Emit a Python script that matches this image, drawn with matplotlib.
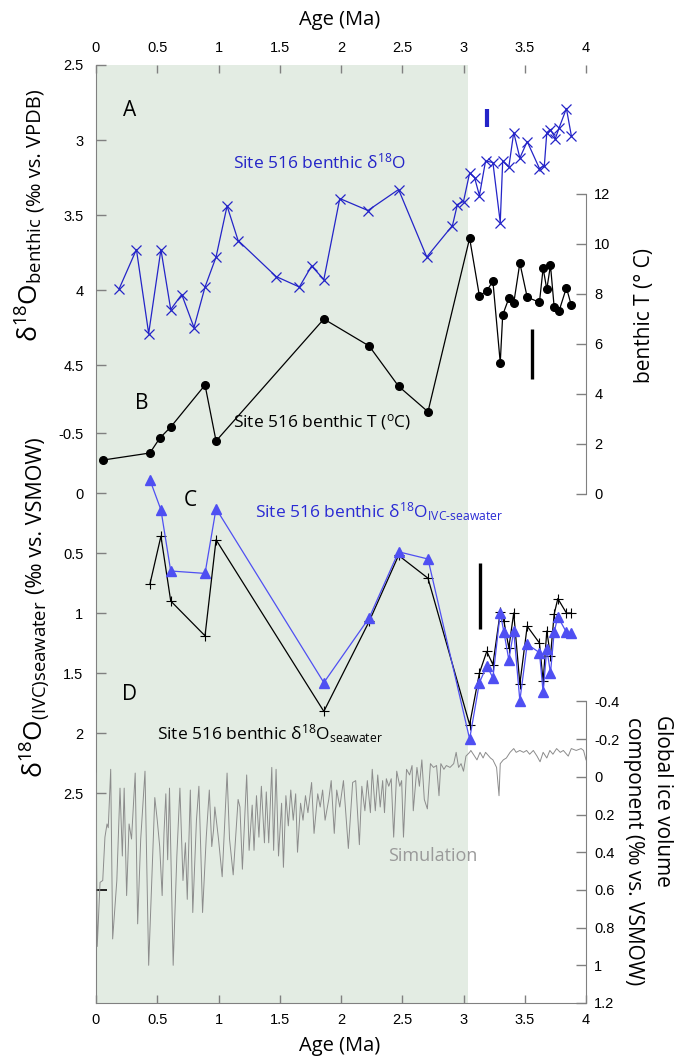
import matplotlib
matplotlib.use('Agg')
import matplotlib.pyplot as plt

plt.rcParams['font.family'] = ['Open Sans', 'DejaVu Sans']
plt.rcParams['mathtext.fontset'] = 'custom'
plt.rcParams['mathtext.rm'] = 'Open Sans'
plt.rcParams['mathtext.it'] = 'Open Sans:italic'
plt.rcParams['mathtext.bf'] = 'Open Sans:bold'

# --- data ---
# A: Site 516 benthic d18O (permil vs VPDB)
age_d18o = [0.19, 0.33, 0.43, 0.53, 0.61, 0.70, 0.80, 0.89, 0.98, 1.07, 1.16, 1.47, 1.66, 1.76,
            1.86, 1.99, 2.22, 2.47, 2.70, 2.91, 2.95, 3.00, 3.05, 3.09, 3.13, 3.18, 3.24, 3.30,
            3.32, 3.37, 3.41, 3.46, 3.52, 3.62, 3.66, 3.68, 3.71, 3.75, 3.78, 3.84, 3.88]
d18o = [3.99, 3.73, 4.29, 3.73, 4.13, 4.03, 4.25, 3.98, 3.78, 3.44, 3.67, 3.91, 3.98, 3.84,
        3.93, 3.39, 3.47, 3.33, 3.78, 3.57, 3.43, 3.41, 3.22, 3.25, 3.37, 3.14, 3.15, 3.55,
        3.14, 3.18, 2.95, 3.12, 3.01, 3.19, 3.17, 2.95, 2.93, 2.99, 2.92, 2.79, 2.97]

# B: Site 516 benthic T (degC)
age_T = [0.06, 0.44, 0.52, 0.61, 0.89, 0.98, 1.86, 2.23, 2.47, 2.71, 3.05, 3.13, 3.19, 3.24,
         3.30, 3.32, 3.37, 3.41, 3.46, 3.52, 3.62, 3.65, 3.68, 3.71, 3.74, 3.78, 3.84, 3.88]
temp = [1.36, 1.64, 2.23, 2.68, 4.36, 2.12, 7.00, 5.92, 4.31, 3.29, 10.23, 7.92, 8.13, 8.51,
        5.25, 7.16, 7.83, 7.63, 9.24, 7.87, 7.67, 9.03, 8.19, 9.15, 7.48, 7.32, 8.25, 7.55]

# C / D: seawater d18O (permil vs VSMOW)
age_sw = [0.44, 0.53, 0.61, 0.89, 0.98, 1.86, 2.23, 2.47, 2.71, 3.05, 3.13, 3.19, 3.24, 3.30,
          3.33, 3.37, 3.41, 3.46, 3.52, 3.62, 3.65, 3.68, 3.71, 3.74, 3.77, 3.84, 3.88]
sw = [0.76, 0.36, 0.90, 1.19, 0.39, 1.82, 1.07, 0.52, 0.71, 1.93, 1.50, 1.32, 1.43, 0.99,
      1.07, 1.29, 1.00, 1.59, 1.11, 1.25, 1.57, 1.15, 1.36, 1.01, 0.88, 1.00, 1.00]
ivc = [-0.11, 0.14, 0.65, 0.67, 0.13, 1.58, 1.04, 0.49, 0.55, 2.05, 1.58, 1.44, 1.54, 1.00,
       1.16, 1.39, 1.15, 1.73, 1.26, 1.33, 1.66, 1.30, 1.50, 1.16, 1.03, 1.16, 1.17]

# simulated global ice volume component
age_sim = [0.00, 0.01, 0.033, 0.055, 0.073, 0.09, 0.10, 0.12, 0.136, 0.17, 0.196, 0.215, 0.23,
           0.25, 0.27, 0.29, 0.32, 0.34, 0.365, 0.40, 0.43, 0.455, 0.48, 0.50, 0.52, 0.54,
           0.555, 0.57, 0.585, 0.60, 0.63, 0.66, 0.685, 0.71, 0.73, 0.745, 0.77, 0.79, 0.82,
           0.84, 0.87, 0.90, 0.925, 0.945, 0.96, 0.97, 1.00, 1.03, 1.07, 1.09, 1.12, 1.16,
           1.175, 1.195, 1.23, 1.25, 1.275, 1.29, 1.31, 1.33, 1.35, 1.375, 1.39, 1.41, 1.435,
           1.45, 1.47, 1.49, 1.515, 1.53, 1.55, 1.57, 1.59, 1.61, 1.63, 1.645, 1.67, 1.69,
           1.71, 1.73, 1.76, 1.78, 1.81, 1.83, 1.85, 1.87, 1.90, 1.92, 1.945, 1.965, 1.99,
           2.02, 2.06, 2.095, 2.12, 2.15, 2.17, 2.195, 2.215, 2.24, 2.255, 2.28, 2.30, 2.32,
           2.34, 2.355, 2.37, 2.39, 2.41, 2.43, 2.455, 2.48, 2.495, 2.51, 2.535, 2.56, 2.58,
           2.59, 2.62, 2.64, 2.66, 2.68, 2.705, 2.73, 2.755, 2.78, 2.80, 2.815, 2.84, 2.86,
           2.89, 2.92, 2.94, 2.96, 2.98, 3.00, 3.02, 3.05, 3.06, 3.08, 3.11, 3.135, 3.16,
           3.18, 3.22, 3.24, 3.27, 3.29, 3.30, 3.325, 3.35, 3.38, 3.41, 3.43, 3.46, 3.49,
           3.515, 3.54, 3.57, 3.60, 3.625, 3.65, 3.68, 3.705, 3.73, 3.76, 3.79, 3.815, 3.855,
           3.88, 3.92, 3.96, 3.98, 4.00]
ice_sim = [-0.02, 0.90, 0.56, 0.55, 0.32, 0.25, 0.27, -0.04, 0.86, 0.55, 0.06, 0.42, 0.06,
           0.63, 0.25, 0.33, -0.02, 0.78, 0.33, -0.03, 1.00, 0.55, 0.11, 0.23, 0.37, 0.63,
           0.30, 0.09, 0.44, 0.06, 1.00, 0.42, 0.06, 0.55, 0.35, 0.65, 0.07, 0.72, 0.23,
           0.05, 0.72, 0.32, 0.07, 0.37, 0.28, 0.16, 0.33, 0.53, -0.02, 0.33, 0.52, 0.12,
           0.16, 0.49, -0.01, 0.39, 0.15, 0.39, 0.10, 0.32, 0.05, 0.35, 0.08, 0.35, -0.05,
           0.39, -0.04, 0.42, 0.14, 0.48, 0.10, 0.26, 0.07, 0.23, 0.09, 0.40, 0.14, 0.23,
           0.10, 0.19, 0.03, 0.30, 0.09, 0.16, 0.07, 0.23, 0.12, 0.02, 0.30, 0.07, 0.16,
           0.02, 0.38, 0.03, 0.02, 0.36, 0.05, 0.18, 0.02, 0.19, -0.04, 0.18, -0.01, 0.16,
           0.02, 0.19, 0.01, 0.05, 0.01, 0.32, -0.03, 0.05, 0.02, 0.32, -0.04, -0.01, -0.06,
           0.18, -0.05, 0.05, -0.09, 0.12, 0.17, -0.07, -0.05, -0.06, 0.10, -0.07, -0.04, -0.06,
           -0.05, -0.07, -0.13, -0.05, -0.07, -0.03, -0.11, -0.13, -0.14, -0.12, -0.09, -0.13, -0.10,
           -0.13, -0.10, -0.09, -0.05, 0.10, -0.07, -0.09, -0.10, -0.13, -0.15, -0.13, -0.14, -0.13,
           -0.14, -0.12, -0.14, -0.11, -0.08, -0.13, -0.10, -0.14, -0.12, -0.15, -0.13, -0.14, -0.11,
           -0.15, -0.14, -0.15, -0.14, -0.09]

# analytical uncertainty bars
bar_a_age, bar_a_lo, bar_a_hi = [3.19], [2.79], [2.91]
bar_T_age, bar_T_lo, bar_T_hi = [3.56], [4.6], [6.6]
bar_sw_age, bar_sw_lo, bar_sw_hi = [3.135], [0.58], [1.13]

shade_start, shade_end = 0.0, 3.04

age_ticks = [0, 0.5, 1, 1.5, 2, 2.5, 3, 3.5, 4]
age_labels = ['0', '0.5', '1', '1.5', '2', '2.5', '3', '3.5', '4']
d18o_ticks = [2.5, 3, 3.5, 4, 4.5]
d18o_labels = ['2.5', '3', '3.5', '4', '4.5']
sw_ticks = [-0.5, 0, 0.5, 1, 1.5, 2, 2.5]
sw_labels = ['-0.5', '0', '0.5', '1', '1.5', '2', '2.5']
T_ticks = [0, 2, 4, 6, 8, 10, 12]
T_labels = ['0', '2', '4', '6', '8', '10', '12']
ice_ticks = [-0.4, -0.2, 0, 0.2, 0.4, 0.6, 0.8, 1.0, 1.2]
ice_labels = ['-0.4', '-0.2', '0', '0.2', '0.4', '0.6', '0.8', '1', '1.2']

# --- figure ---
W, H = 686, 1062
fig = plt.figure(figsize=(W / 100, H / 100), dpi=100)


def fx(px):
    return px / W


def fy(py):
    return 1 - py / H


rect = [fx(96), fy(1003), fx(586) - fx(96), fy(65) - fy(1003)]
GREY = '#808080'
TICKFONT = 'Liberation Sans'
BLUE = '#2424c8'
LBLUE = '#4f4ff2'

ax = fig.add_axes(rect, label='base')
ax.set_xlim(0, 4)
ax.set_ylim(0, 1)
ax.axvspan(shade_start, shade_end, color='#e3ece3', lw=0)
ax.set_yticks([])
ax.set_xticks(age_ticks)
ax.set_xticklabels(age_labels)
ax.tick_params(axis='x', top=True, labeltop=True, direction='in', length=6, width=1,
               color=GREY, labelsize=10.5, pad=7, labelfontfamily=TICKFONT)
for s in ['top', 'right']:
    ax.spines[s].set_visible(False)
for s in ['left', 'bottom']:
    ax.spines[s].set_color(GREY)


def overlay(name, ylim):
    a = fig.add_axes(rect, label=name)
    a.set_xlim(0, 4)
    a.set_ylim(*ylim)
    a.patch.set_visible(False)
    for s in a.spines.values():
        s.set_visible(False)
    a.set_xticks([])
    return a


ax_ice = overlay('ice', (1.199, -3.777))
ax_sw = overlay('sw', (4.25, -3.5667))
ax_T = overlay('T', (-20.36, 17.16))
ax_a = overlay('a', (8.7533, 2.5))

# left axes
for a, tk, lb in [(ax_a, d18o_ticks, d18o_labels), (ax_sw, sw_ticks, sw_labels)]:
    a.set_yticks(tk)
    a.set_yticklabels(lb)
    a.tick_params(axis='y', left=True, right=False, labelleft=True, labelright=False,
                  direction='in', length=7, width=1, color=GREY, labelsize=10.5, pad=9,
                  labelfontfamily=TICKFONT)

# right axes
for a, tk, lb, bnd in [(ax_T, T_ticks, T_labels, (0, 12)), (ax_ice, ice_ticks, ice_labels, (-0.4, 1.2))]:
    a.yaxis.tick_right()
    a.set_yticks(tk)
    a.set_yticklabels(lb)
    a.spines['right'].set_visible(True)
    a.spines['right'].set_color(GREY)
    a.spines['right'].set_bounds(*bnd)
    a.tick_params(axis='y', which='major', direction='in', length=7, width=1, color=GREY,
                  labelsize=10.5, pad=6, labelfontfamily=TICKFONT)

# stray black tick on the left spine
ax_ice.yaxis.remove_overlapping_locs = False
ax_ice.set_yticks([0.6], minor=True)
ax_ice.tick_params(axis='y', which='minor', left=True, right=False, direction='in',
                   length=8, width=1.2, color='k')

# --- data ---
ax_ice.plot(age_sim, ice_sim, color='#8c8c8c', lw=0.7)

ax_sw.plot(age_sw, sw, '-+', color='k', ms=7, mew=0.8, lw=0.9)
ax_sw.plot(age_sw, ivc, '-^', color=LBLUE, mfc=LBLUE, mec=LBLUE, ms=6.5, lw=0.9)
ax_sw.vlines(bar_sw_age, bar_sw_lo, bar_sw_hi, color='k', lw=2.4)

ax_T.plot(age_T, temp, '-o', color='k', ms=5.5, lw=0.9)
ax_T.vlines(bar_T_age, bar_T_lo, bar_T_hi, color='k', lw=2.4)

ax_a.plot(age_d18o, d18o, '-x', color=BLUE, ms=6.5, mew=0.9, lw=0.9)
ax_a.vlines(bar_a_age, bar_a_lo, bar_a_hi, color=BLUE, lw=3)


# --- text ---
def ftext(px, py, s, **kw):
    return fig.text(fx(px), fy(py), s, **kw)


ftext(340, 20, 'Age (Ma)', ha='center', va='center', fontsize=14.5)
ftext(340, 1046, 'Age (Ma)', ha='center', va='center', fontsize=14.5)

vert = dict(rotation=90, rotation_mode='anchor', ha='left', va='baseline')
t_up = ftext(38, 342, 'δ$^{18}$O$_{\\rm benthic}$', fontsize=19, **vert)
t_lo = ftext(42, 778, 'δ$^{18}$O$_{\\rm (IVC)seawater}$', fontsize=19, **vert)
fig.canvas.draw()
bb_up = t_up.get_window_extent()
bb_lo = t_lo.get_window_extent()
fig.text(fx(41), (bb_up.y1 + 6) / H, '(‰ vs. VPDB)', fontsize=14.5, **vert)
fig.text(fx(42), (bb_lo.y1 + 6) / H, '(‰ vs. VSMOW)', fontsize=15.5, **vert)

ftext(650, 383, 'benthic T (° C)', fontsize=15, **vert)
down = dict(rotation=-90, rotation_mode='anchor', ha='left', va='baseline')
ftext(657, 715, 'Global ice volume', fontsize=15, **down)
ftext(628, 717, 'component (‰ vs. VSMOW)', fontsize=15, **down)

ftext(130, 111, 'A', ha='center', va='center', fontsize=15)
ftext(142, 403, 'B', ha='center', va='center', fontsize=15)
ftext(190, 500, 'C', ha='center', va='center', fontsize=15)
ftext(130, 695, 'D', ha='center', va='center', fontsize=15)

ftext(233, 162, 'Site 516 benthic δ$^{18}$O', ha='left', va='center', fontsize=12.5, color=BLUE)
ftext(233, 422, 'Site 516 benthic T ($^{\\rm o}$C)', ha='left', va='center', fontsize=12.5)
ftext(255, 512, 'Site 516 benthic δ$^{18}$O$_{\\rm IVC\\text{-}seawater}$', ha='left', va='center',
      fontsize=12.5, color='#2a2ad4')
ftext(157, 734, 'Site 516 benthic δ$^{18}$O$_{\\rm seawater}$', ha='left', va='center', fontsize=12.5)
ftext(433, 856, 'Simulation', ha='center', va='center', fontsize=13, color='#9a9a9a')

fig.savefig('out.png', dpi=100)
